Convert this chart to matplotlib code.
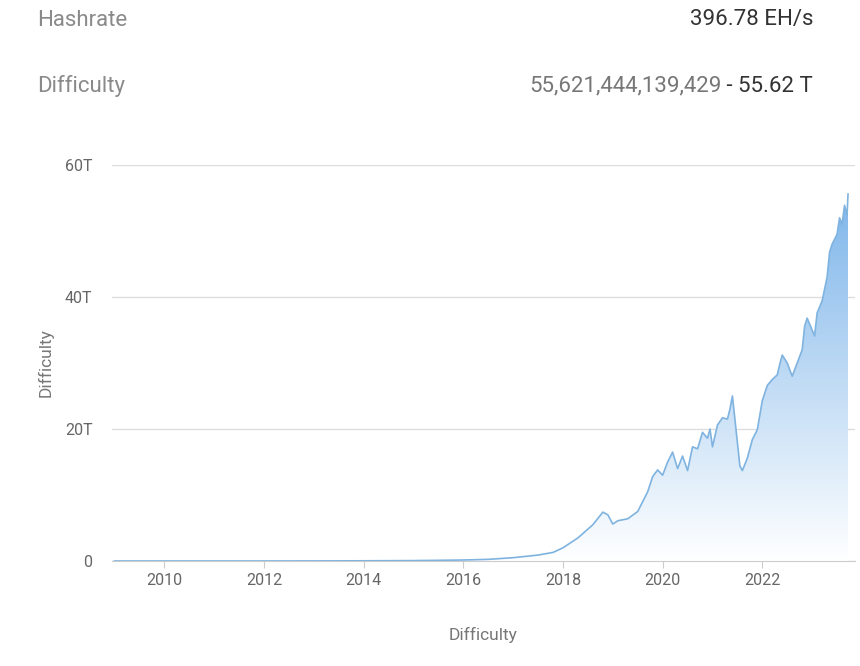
import matplotlib
matplotlib.use("Agg")
import matplotlib.pyplot as plt
import numpy as np
from matplotlib.patches import Polygon
from matplotlib.colors import LinearSegmentedColormap

plt.rcParams['font.family'] = ['Roboto', 'DejaVu Sans']

years = [2009.0, 2010, 2011, 2012, 2013, 2014, 2015, 2016, 2016.5, 2017, 2017.5, 2017.8, 2018.0, 2018.3, 2018.6, 2018.8,
         2018.9, 2019.0, 2019.1, 2019.3, 2019.5, 2019.6, 2019.7, 2019.8, 2019.9, 2020.0, 2020.1, 2020.2,
         2020.3, 2020.4, 2020.5, 2020.6, 2020.7, 2020.8, 2020.9, 2020.95, 2021.0, 2021.1, 2021.2, 2021.3,
         2021.35, 2021.4, 2021.45, 2021.55, 2021.6, 2021.7, 2021.8, 2021.9, 2022.0, 2022.1, 2022.2, 2022.3,
         2022.35, 2022.4, 2022.5, 2022.6, 2022.7, 2022.8, 2022.85, 2022.9, 2023.0, 2023.05, 2023.1, 2023.2,
         2023.3, 2023.35, 2023.4, 2023.5, 2023.55, 2023.6, 2023.65, 2023.7, 2023.72]
difficulty_T = [0, 0, 0, 0, 0.01, 0.03, 0.06, 0.15, 0.25, 0.5, 0.9, 1.3, 2.0, 3.5, 5.5, 7.4,
                7.0, 5.6, 6.1, 6.4, 7.5, 9.0, 10.5, 12.8, 13.8, 13.0, 15.0, 16.5,
                14.0, 15.9, 13.7, 17.3, 17.0, 19.5, 18.6, 20.0, 17.3, 20.6, 21.7, 21.5,
                23.0, 25.0, 21.5, 14.4, 13.7, 15.6, 18.4, 19.9, 24.3, 26.6, 27.5, 28.2,
                29.8, 31.2, 30.0, 28.0, 30.0, 32.0, 35.6, 36.8, 35.0, 34.1, 37.6, 39.4,
                43.0, 46.8, 48.0, 49.5, 52.0, 51.0, 53.9, 52.4, 55.6]
yticks = [0, 20, 40, 60]
yticklabels = ["0", "20T", "40T", "60T"]
xticks = [2010, 2012, 2014, 2016, 2018, 2020, 2022]

fig = plt.figure(figsize=(8.6, 6.66), dpi=100)
fig.text(37/860, 1-20/666, "Hashrate", fontsize=16, color="#8a8a8a", va="center")
fig.text(813/860, 1-20/666, "396.78 EH/s", fontsize=16, color="#333333", va="center", ha="right")
fig.text(37/860, 1-86/666, "Difficulty", fontsize=16, color="#8a8a8a", va="center")
t2 = fig.text(813/860, 1-86/666, " - 55.62 T", fontsize=16, color="#333333", va="center", ha="right")
fig.canvas.draw()
bb = t2.get_window_extent()
fig.text(bb.x0/860, 1-86/666, "55,621,444,139,429", fontsize=16, color="#777777", va="center", ha="right")

ax = fig.add_axes([112/860, 1-561/666, (855-112)/860, (561-165)/666])
x = np.array(years); y = np.array(difficulty_T)
ax.plot(x, y, color="#7fb3e0", lw=1.2, zorder=3)
grad = np.linspace(0, 1, 256).reshape(-1, 1)
cmap = LinearSegmentedColormap.from_list("g", ["#ffffff", "#7fb6ea"])
im = ax.imshow(grad, cmap=cmap, aspect="auto", origin="lower",
               extent=[x.min(), x.max(), 0, y.max()], zorder=2)
poly = Polygon(np.column_stack([np.r_[x, x[-1], x[0]], np.r_[y, 0, 0]]), closed=True,
               transform=ax.transData, facecolor="none", edgecolor="none")
ax.add_patch(poly)
im.set_clip_path(poly)
ax.set_xlim(2009.0 - 0.05, 2023.86)
ax.set_ylim(0, 60)
ax.set_yticks(yticks); ax.set_yticklabels(yticklabels)
ax.set_xticks(xticks)
ax.grid(axis="y", color="#dddddd", lw=1)
ax.set_axisbelow(True)
for s in ["top", "right", "left"]:
    ax.spines[s].set_visible(False)
ax.spines["bottom"].set_color("#cccccc")
ax.tick_params(axis="y", length=0, labelsize=11.5, labelcolor="#666666", pad=14)
ax.tick_params(axis="x", length=5, color="#cccccc", labelsize=11.5, labelcolor="#666666")
ax.set_xlabel("Difficulty", fontsize=12.5, color="#777777", labelpad=28)
ax.set_ylabel("Difficulty", fontsize=12.5, color="#777777", labelpad=8)
fig.savefig("out.png", dpi=100)
